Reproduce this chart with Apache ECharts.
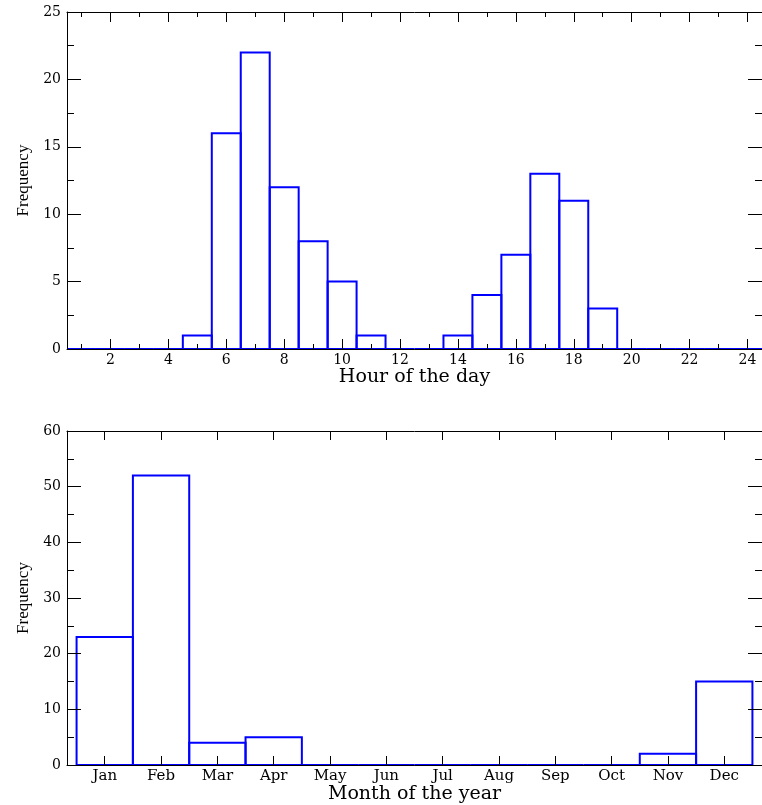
<!DOCTYPE html>
<html>
<head>
<meta charset="utf-8">
<script src="https://cdn.jsdelivr.net/npm/echarts@6/dist/echarts.min.js"></script>
<style>
  html, body { margin: 0; padding: 0; background: #ffffff; }
  #chart { width: 762px; height: 805px; }
</style>
</head>
<body>
<div id="chart"></div>
<script>
// Hour-of-day histogram (bins centred on each hour)
const hours = [1, 2, 3, 4, 5, 6, 7, 8, 9, 10, 11, 12, 13, 14, 15, 16, 17, 18, 19, 20, 21, 22, 23, 24];
const hourCounts = [0, 0, 0, 0, 1, 16, 22, 12, 8, 5, 1, 0, 0, 1, 4, 7, 13, 11, 3, 0, 0, 0, 0, 0];
const hourMajorTicks = [2, 4, 6, 8, 10, 12, 14, 16, 18, 20, 22, 24];
const hourMinorTicks = [1, 3, 5, 7, 9, 11, 13, 15, 17, 19, 21, 23];

// Month-of-year histogram
const months = ['Jan', 'Feb', 'Mar', 'Apr', 'May', 'Jun', 'Jul', 'Aug', 'Sep', 'Oct', 'Nov', 'Dec'];
const monthIndex = [1, 2, 3, 4, 5, 6, 7, 8, 9, 10, 11, 12];
const monthCounts = [23, 52, 4, 5, 0, 0, 0, 0, 0, 0, 2, 15];

const BLUE = '#0000ff';
const INK = '#000000';
const tickFont = { fontFamily: 'DejaVu Serif', fontSize: 14, color: INK };
const monthFont = { fontFamily: 'DejaVu Serif', fontSize: 15, color: INK };
const nameFontX = { fontFamily: 'DejaVu Serif', fontSize: 19, color: INK };
const nameFontY = { fontFamily: 'Liberation Serif', fontSize: 17, color: INK };

// Outlined histogram bar, one unit wide, centred on its bin value
function histBar(params, api) {
  const x = api.value(0);
  const y = api.value(1);
  const topLeft = api.coord([x - 0.5, y]);
  const bottomRight = api.coord([x + 0.5, 0]);
  return {
    type: 'rect',
    shape: {
      x: topLeft[0],
      y: topLeft[1],
      width: bottomRight[0] - topLeft[0],
      height: bottomRight[1] - topLeft[1]
    },
    style: { fill: 'none', stroke: BLUE, lineWidth: 2 }
  };
}

function xAxisBase(gridIndex, position, min, max, ticks, len, showLine) {
  return {
    type: 'value',
    gridIndex: gridIndex,
    position: position,
    min: min,
    max: max,
    z: 5,
    axisLine: { show: showLine, onZero: false, lineStyle: { color: INK, width: 1 } },
    axisTick: { show: true, inside: true, length: len, customValues: ticks, lineStyle: { color: INK, width: 1 } },
    axisLabel: { show: false },
    splitLine: { show: false }
  };
}

function yAxisBase(gridIndex, position, max, interval, majorLen, minorLen) {
  return {
    type: 'value',
    gridIndex: gridIndex,
    position: position,
    min: 0,
    max: max,
    interval: interval,
    z: 5,
    axisLine: { show: true, onZero: false, lineStyle: { color: INK, width: 1 } },
    axisTick: { show: true, inside: true, length: majorLen, lineStyle: { color: INK, width: 1 } },
    minorTick: { show: true, splitNumber: 2, length: minorLen, lineStyle: { color: INK, width: 1 } },
    axisLabel: { show: false },
    splitLine: { show: false }
  };
}

const hourAxisBottom = xAxisBase(0, 'bottom', 0.5, 24.5, hourMajorTicks, 10, true);
hourAxisBottom.axisLabel = Object.assign({ show: true, margin: 4, customValues: hourMajorTicks }, tickFont);
hourAxisBottom.name = 'Hour of the day';
hourAxisBottom.nameLocation = 'middle';
hourAxisBottom.nameGap = 16;
hourAxisBottom.nameTextStyle = nameFontX;

const monthAxisBottom = xAxisBase(1, 'bottom', 0.33, 12.67, monthIndex, 9, true);
monthAxisBottom.axisLabel = Object.assign({
  show: true, margin: 4, customValues: monthIndex,
  formatter: function (v) { return months[Math.round(v) - 1]; }
}, monthFont);
monthAxisBottom.name = 'Month of the year';
monthAxisBottom.nameLocation = 'middle';
monthAxisBottom.nameGap = 19;
monthAxisBottom.nameTextStyle = nameFontX;

const hourFreqAxis = yAxisBase(0, 'left', 25, 5, 14, 7);
hourFreqAxis.axisLabel = Object.assign({ show: true, margin: 6 }, tickFont);
hourFreqAxis.name = 'Frequency';
hourFreqAxis.nameLocation = 'middle';
hourFreqAxis.nameRotate = 90;
hourFreqAxis.nameGap = 33;
hourFreqAxis.nameTextStyle = nameFontY;

const monthFreqAxis = yAxisBase(1, 'left', 60, 10, 14, 7);
monthFreqAxis.axisLabel = Object.assign({ show: true, margin: 6 }, tickFont);
monthFreqAxis.name = 'Frequency';
monthFreqAxis.nameLocation = 'middle';
monthFreqAxis.nameRotate = 90;
monthFreqAxis.nameGap = 33;
monthFreqAxis.nameTextStyle = nameFontY;

const option = {
  animation: false,
  backgroundColor: '#ffffff',
  grid: [
    { left: 67, top: 12, width: 698, height: 337 },
    { left: 67, top: 431, width: 698, height: 334 }
  ],
  xAxis: [
    hourAxisBottom,
    xAxisBase(0, 'bottom', 0.5, 24.5, hourMinorTicks, 5, false),
    xAxisBase(0, 'top', 0.5, 24.5, hourMajorTicks, 10, true),
    xAxisBase(0, 'top', 0.5, 24.5, hourMinorTicks, 5, false),
    monthAxisBottom,
    xAxisBase(1, 'top', 0.33, 12.67, monthIndex, 9, true)
  ],
  yAxis: [
    hourFreqAxis,
    yAxisBase(0, 'right', 25, 5, 14, 7),
    monthFreqAxis,
    yAxisBase(1, 'right', 60, 10, 14, 7)
  ],
  series: [
    {
      type: 'custom',
      xAxisIndex: 0,
      yAxisIndex: 0,
      z: 1,
      renderItem: histBar,
      data: hours.map(function (h, i) { return [h, hourCounts[i]]; })
    },
    {
      type: 'custom',
      xAxisIndex: 4,
      yAxisIndex: 2,
      z: 1,
      renderItem: histBar,
      data: monthIndex.map(function (m, i) { return [m, monthCounts[i]]; })
    }
  ]
};

const chart = echarts.init(document.getElementById('chart'), null, { renderer: 'canvas' });
chart.setOption(option);
</script>
</body>
</html>
